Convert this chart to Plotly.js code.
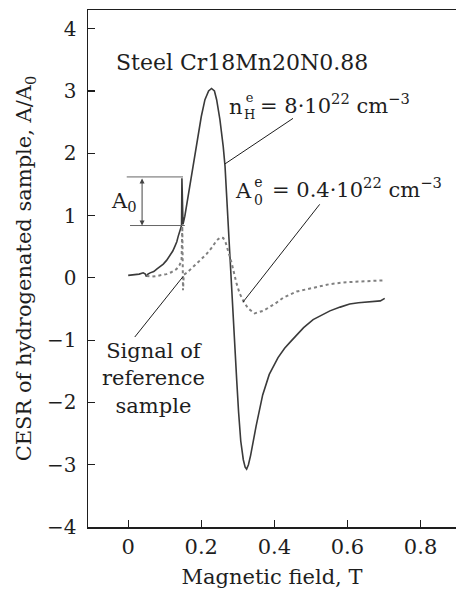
<!DOCTYPE html>
<html>
<head>
<meta charset="utf-8">
<script src="https://cdn.plot.ly/plotly-3.0.1.min.js"></script>
<style>
  html, body { margin: 0; padding: 0; background: #fff; }
  #chart { width: 456px; height: 589px; }
</style>
</head>
<body>
<div id="chart"></div>
<script>
// CESR spectrum of the hydrogenated steel sample (solid)
const hydroField = [0.000, 0.015, 0.030, 0.041, 0.047, 0.050, 0.054, 0.060, 0.070, 0.078, 0.088, 0.096, 0.105, 0.114, 0.122, 0.128, 0.133, 0.137, 0.142, 0.146, 0.147, 0.148, 0.150, 0.155, 0.164, 0.173, 0.182, 0.191, 0.200, 0.210, 0.220, 0.228, 0.236, 0.242, 0.251, 0.260, 0.265, 0.269, 0.273, 0.278, 0.282, 0.287, 0.292, 0.297, 0.302, 0.308, 0.315, 0.320, 0.324, 0.329, 0.335, 0.342, 0.350, 0.368, 0.386, 0.410, 0.428, 0.445, 0.461, 0.480, 0.506, 0.530, 0.552, 0.580, 0.606, 0.630, 0.652, 0.675, 0.690, 0.702];
const hydroSignal = [0.04, 0.05, 0.06, 0.08, 0.06, 0.02, 0.06, 0.08, 0.10, 0.14, 0.18, 0.22, 0.28, 0.35, 0.43, 0.51, 0.58, 0.67, 0.75, 0.84, 1.60, 0.86, 0.86, 0.99, 1.31, 1.63, 1.95, 2.27, 2.59, 2.86, 3.00, 3.04, 3.00, 2.86, 2.54, 2.11, 1.79, 1.36, 0.90, 0.35, -0.05, -0.60, -1.12, -1.65, -2.15, -2.62, -2.92, -3.04, -3.07, -3.00, -2.85, -2.62, -2.38, -1.88, -1.55, -1.28, -1.13, -1.02, -0.92, -0.80, -0.67, -0.59, -0.53, -0.47, -0.42, -0.40, -0.39, -0.38, -0.37, -0.33];

// Signal of the reference sample (dotted)
const refField = [0.050, 0.065, 0.078, 0.092, 0.105, 0.118, 0.132, 0.140, 0.146, 0.148, 0.150, 0.152, 0.160, 0.173, 0.187, 0.200, 0.214, 0.228, 0.242, 0.252, 0.260, 0.267, 0.274, 0.283, 0.296, 0.305, 0.315, 0.328, 0.346, 0.369, 0.401, 0.424, 0.461, 0.506, 0.552, 0.597, 0.650, 0.700];
const refSignal = [0.03, 0.02, 0.03, 0.04, 0.06, 0.09, 0.14, 0.20, 0.28, 0.83, -0.20, 0.05, 0.08, 0.15, 0.22, 0.30, 0.38, 0.48, 0.60, 0.65, 0.64, 0.56, 0.42, 0.24, -0.08, -0.25, -0.37, -0.49, -0.57, -0.53, -0.42, -0.32, -0.22, -0.16, -0.10, -0.07, -0.05, -0.04];

const xTicks = [0, 0.2, 0.4, 0.6, 0.8];
const xTickText = ['0', '0.2', '0.4', '0.6', '0.8'];
const yTicks = [-4, -3, -2, -1, 0, 1, 2, 3, 4];
const yTickText = ['−4', '−3', '−2', '−1', '0', '1', '2', '3', '4'];

// A0 bracket levels
const a0Top = 1.62;
const a0Bottom = 0.84;

const FONT = '"DejaVu Serif", serif';
const INK = '#1e1e1e';

const traces = [
  {
    x: hydroField, y: hydroSignal, type: 'scatter', mode: 'lines',
    line: { color: '#3a3a3a', width: 1.6 }, hoverinfo: 'skip'
  },
  {
    x: refField, y: refSignal, type: 'scatter', mode: 'lines',
    line: { color: '#808080', width: 2, dash: 'dot' }, hoverinfo: 'skip'
  }
];

const leader = (x0, y0, x1, y1) => ({
  type: 'line', xref: 'x', yref: 'y', x0, y0, x1, y1,
  line: { color: INK, width: 1 }
});

const shapes = [
  leader(0.451, 2.56, 0.265, 1.83),
  leader(0.524, 1.18, 0.314, -0.39),
  leader(0.018, -0.95, 0.150, 0.02),
  { type: 'line', xref: 'x', yref: 'y', x0: -0.004, x1: 0.150, y0: a0Top, y1: a0Top, line: { color: '#666', width: 1 } },
  { type: 'line', xref: 'x', yref: 'y', x0: 0.005, x1: 0.155, y0: a0Bottom, y1: a0Bottom, line: { color: '#666', width: 1 } }
];

const txt = (text, x, y, size, extra) => Object.assign({
  text, x, y, xref: 'x', yref: 'y', showarrow: false,
  font: { family: FONT, size, color: INK }
}, extra || {});

const annotations = [
  txt('Steel Cr18Mn20N0.88', 0.312, 3.46, 22),
  // n with stacked e / H indices, then the value
  txt('n', 0.320, 2.74, 21, { xanchor: 'right' }),
  txt('e<br>H', 0.3315, 2.76, 13),
  txt('= 8·10<sup>22</sup> cm<sup>−3</sup>', 0.356, 2.79, 21, { xanchor: 'left' }),
  // A with stacked e / 0 indices, then the value
  txt('A', 0.3435, 1.40, 21, { xanchor: 'right' }),
  txt('e<br>0', 0.3572, 1.39, 14),
  txt('= 0.4·10<sup>22</sup> cm<sup>−3</sup>', 0.387, 1.45, 21, { xanchor: 'left' }),
  txt('A<sub>0</sub>', -0.012, 1.22, 21),
  txt('Signal of<br>reference<br>sample', 0.069, -1.62, 21),
  // double-headed A0 arrow
  {
    x: 0.038, y: a0Bottom, ax: 0.038, ay: a0Top, xref: 'x', yref: 'y', axref: 'x', ayref: 'y',
    text: '', showarrow: true, arrowhead: 2, startarrowhead: 2, arrowside: 'end+start',
    arrowsize: 1, arrowwidth: 1, arrowcolor: '#444', standoff: 0, startstandoff: 0
  }
];

const layout = {
  width: 456, height: 589,
  margin: { l: 88, r: 0, t: 10, b: 62 },
  paper_bgcolor: '#fff', plot_bgcolor: '#fff',
  showlegend: false,
  font: { family: FONT, size: 21, color: INK },
  xaxis: {
    range: [-0.11, 0.897], tickvals: xTicks, ticktext: xTickText,
    ticks: 'inside', ticklen: 7, tickwidth: 1.2, tickcolor: INK,
    showline: true, linecolor: INK, linewidth: 1.5, mirror: true,
    showgrid: false, zeroline: false,
    tickfont: { family: FONT, size: 21, color: INK },
    title: { text: 'Magnetic field, T', font: { family: FONT, size: 21, color: INK }, standoff: 15 }
  },
  yaxis: {
    range: [-4, 4.3], tickvals: yTicks, ticktext: yTickText,
    ticks: 'inside', ticklen: 7, tickwidth: 1.2, tickcolor: INK,
    showline: true, linecolor: INK, linewidth: 1.5,
    showgrid: false, zeroline: false,
    tickfont: { family: FONT, size: 20, color: INK },
    ticklabelstandoff: 6,
    title: { text: 'CESR of hydrogenated sample, A/A<sub>0</sub>', font: { family: FONT, size: 21, color: INK }, standoff: 9 }
  },
  shapes, annotations
};

Plotly.newPlot('chart', traces, layout, { staticPlot: true, displayModeBar: false });
</script>
</body>
</html>
